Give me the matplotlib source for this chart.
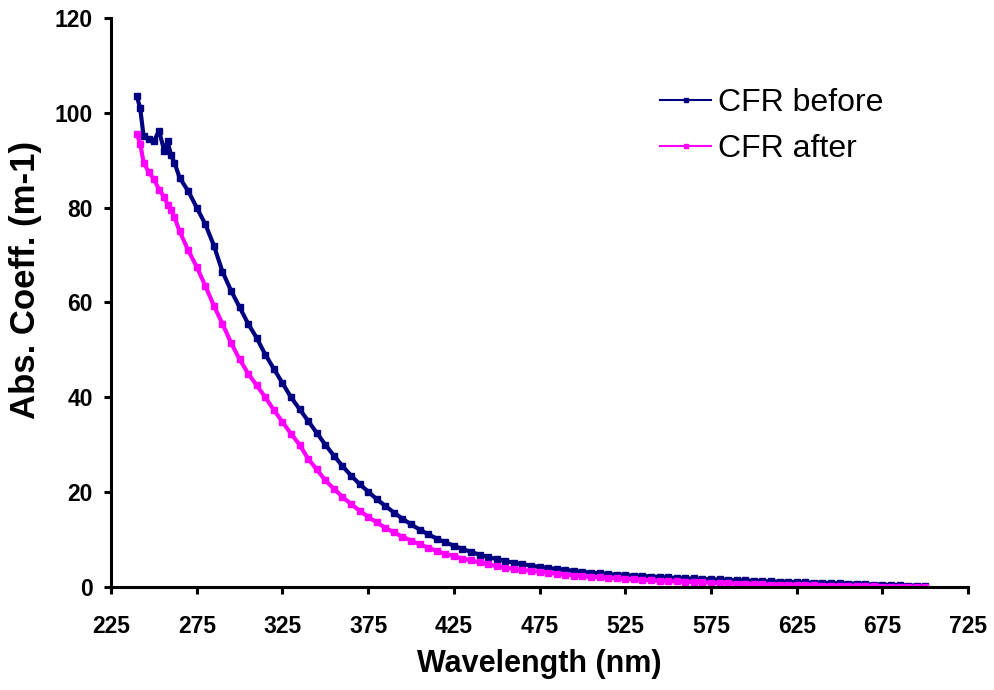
import numpy as np
import matplotlib
matplotlib.use("Agg")
import matplotlib.pyplot as plt

plt.rcParams["font.family"] = ["Liberation Sans", "DejaVu Sans"]

# wavelength grid (nm): finer at the noisy start, then every 5 nm
wavelength = np.concatenate([
    [240, 242, 244, 247, 250, 253, 256, 258, 260, 262, 265],
    np.arange(270, 701, 5),
])

cfr_before = [
    103.5, 101.0, 95.0, 94.5, 94.0, 96.2, 92.0, 94.0, 91.0, 89.5, 86.3,
    83.5, 80.0, 76.5, 72.0, 66.5, 62.5, 59.0, 55.5, 52.5, 49.0,
    46.0, 43.0, 40.0, 37.5, 35.0, 32.5, 30.0, 27.7, 25.5, 23.5,
    21.7, 20.1, 18.5, 17.1, 15.7, 14.4, 13.2, 12.1, 11.1, 10.2,
    9.4, 8.7, 8.0, 7.4, 6.8, 6.3, 5.9, 5.5, 5.1, 4.8,
    4.5, 4.2, 4.0, 3.8, 3.6, 3.4, 3.2, 3.0, 2.9, 2.7,
    2.6, 2.5, 2.4, 2.3, 2.2, 2.1, 2.0, 1.9, 1.8, 1.8,
    1.7, 1.6, 1.6, 1.5, 1.4, 1.4, 1.3, 1.2, 1.2, 1.1,
    1.1, 1.0, 1.0, 0.9, 0.9, 0.8, 0.8, 0.7, 0.7, 0.6,
    0.5, 0.5, 0.4, 0.4, 0.3, 0.3, 0.2,
]

cfr_after = [
    95.5, 93.5, 89.5, 87.5, 86.0, 83.8, 82.3, 80.6, 79.5, 78.0, 75.0,
    71.0, 67.5, 63.5, 59.3, 55.5, 51.5, 48.0, 45.0, 42.5, 40.0,
    37.3, 34.8, 32.3, 30.0, 27.0, 24.8, 22.5, 20.7, 19.0, 17.5,
    16.1, 14.8, 13.6, 12.5, 11.5, 10.6, 9.8, 9.0, 8.3, 7.6,
    7.0, 6.5, 6.0, 5.6, 5.2, 4.8, 4.4, 4.1, 3.8, 3.6,
    3.4, 3.2, 3.0, 2.8, 2.6, 2.4, 2.3, 2.1, 2.0, 1.9,
    1.8, 1.7, 1.6, 1.5, 1.4, 1.3, 1.2, 1.2, 1.1, 1.0,
    1.0, 0.9, 0.8, 0.8, 0.7, 0.7, 0.6, 0.6, 0.5, 0.5,
    0.5, 0.4, 0.4, 0.4, 0.3, 0.3, 0.3, 0.3, 0.2, 0.2,
    0.2, 0.1, 0.1, 0.1, 0.1, 0.0, 0.0,
]

x_ticks = np.arange(225, 726, 50)
y_ticks = np.arange(0, 121, 20)

fig = plt.figure(figsize=(9.95, 6.9), dpi=100)
ax = fig.add_axes([0.1116, 0.1493, 0.8614, 0.8247])

ax.plot(wavelength, cfr_before, color="#000080", lw=3.0, marker="s",
        ms=4.5, mec="#000080", mfc="#000080", label="CFR before")
ax.plot(wavelength, cfr_after, color="#FF00FF", lw=3.0, marker="s",
        ms=4.5, mec="#FF00FF", mfc="#FF00FF", label="CFR after")

ax.set_xlim(225, 725)
ax.set_ylim(0, 120)
ax.set_xticks(x_ticks)
ax.set_yticks(y_ticks)

for side in ["top", "right"]:
    ax.spines[side].set_visible(False)
for side in ["left", "bottom"]:
    ax.spines[side].set_linewidth(2.2)

ax.tick_params(axis="both", direction="out", length=5, width=2.2,
               labelsize=16.5)
ax.tick_params(axis="x", pad=15)
ax.tick_params(axis="y", pad=8)
for lbl in ax.get_xticklabels() + ax.get_yticklabels():
    lbl.set_fontweight("bold")

ax.set_xlabel("Wavelength (nm)", fontsize=22, fontweight="bold", labelpad=8)
ax.set_ylabel("Abs. Coeff. (m-1)", fontsize=25, fontweight="bold")
# label sits a bit above the axes centre in the original
ax.yaxis.set_label_coords(-0.08, 0.54)

leg = ax.legend(loc="upper left", bbox_to_anchor=(0.6406, 0.877), frameon=False,
                fontsize=23, handlelength=1.6, handletextpad=0.2,
                labelspacing=0.5, borderpad=0, borderaxespad=0,
                markerscale=0.6)
for line in leg.get_lines():
    line.set_linewidth(1.5)

fig.savefig("out.png", dpi=100)
